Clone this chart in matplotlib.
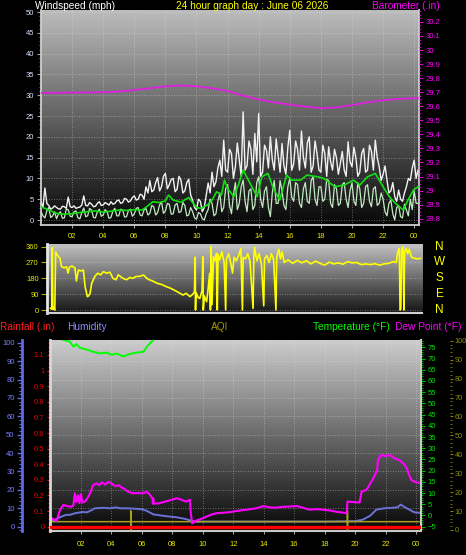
import numpy as np
import matplotlib
matplotlib.use("Agg")
import matplotlib.pyplot as plt
from matplotlib.ticker import MultipleLocator, FuncFormatter

plt.rcParams['font.family'] = ['Liberation Sans', 'DejaVu Sans']

# ---------------- data ----------------
hour_ticks = [2, 4, 6, 8, 10, 12, 14, 16, 18, 20, 22, 24]
hour_labels = ['02', '04', '06', '08', '10', '12', '14', '16', '18', '20', '22', '00']

# wind, sampled every 7.5 minutes from 00:00
wind_step_h = 0.125
gust_mph = [4.4, 3.0, 7.7, 4.0, 3.5, 2.6, 2.9, 3.4, 3.0, 2.7, 2.6, 3.3, 3.2, 2.8, 5.5, 3.2,
            3.0, 3.4, 2.8, 3.0, 3.1, 3.6, 5.8, 3.5,
            3.4, 4.2, 3.8, 3.2, 3.3, 4.0, 4.4, 3.5, 3.6, 4.2, 3.9, 3.6,
            4.4, 3.8, 4.0, 4.6, 4.8, 4.0, 4.2, 5.2, 5.0, 4.3,
            4.6, 5.4, 5.8, 4.8, 5.0, 6.2, 6.0, 5.0,
            8.0, 6.5,
            9.5, 6.8, 7.2, 9.0, 10.2, 7.0, 8.0, 10.5, 11.2, 7.5, 8.5, 9.8, 10.0, 6.8,
            7.4, 10.5, 9.6, 6.5, 7.0, 9.0, 9.8, 6.0,
            4.8, 3.0,
            2.4, 5.0, 4.5, 2.0, 3.0, 6.0,
            8.9, 6.5,
            11.5, 8.0, 9.2, 12.5,
            14.4, 10.5, 19.2, 12.0, 11.5, 17.0, 16.0, 10.0, 12.8, 18.5,
            14.5, 10.5, 26.0, 12.0, 13.0, 19.0, 17.0, 11.0, 20.8, 14.0,
            25.6, 10.5, 11.5, 18.0, 16.8, 12.5, 20.0, 14.5, 12.0, 19.5,
            15.4, 11.5, 18.4, 13.0, 11.0, 17.5, 21.6, 12.0, 13.5, 19.0,
            17.0, 12.0, 21.4, 15.0, 12.5, 18.5, 20.0, 11.5, 13.0, 19.0,
            16.0, 12.0, 11.5, 18.0, 16.0, 10.5, 17.6, 14.0, 12.0, 17.0,
            15.0, 11.0, 13.6, 16.5, 12.0, 10.5, 18.8, 14.0, 12.8, 17.5,
            15.0, 10.5, 11.5, 16.0, 17.2, 11.5, 12.0, 18.0, 16.5, 12.0,
            19.2, 15.0, 12.8, 9.5, 11.0, 13.0, 9.6, 6.5, 7.0, 9.0,
            5.6, 4.5, 7.2, 5.0, 4.5, 6.5, 8.0, 10.0, 9.5, 12.5,
            14.4, 10.0, 12.0]
speed_mph = [2.0, 1.0, 0.5, 2.2, 3.0, 0.6, 1.0, 2.0, 0.3, 1.5, 2.0, 0.4, 0.5, 2.6, 2.5, 0.9,
             0.8, 2.0, 2.2, 0.5, 0.3, 1.8, 2.9, 0.8,
             1.0, 2.8, 2.4, 0.6, 0.5, 2.0, 2.6, 0.9, 1.2, 2.5, 2.0, 0.4,
             0.6, 2.2, 2.8, 1.0, 1.0, 2.6, 2.4, 0.7, 0.8, 2.3,
             2.6, 0.9, 1.5, 2.8, 3.0, 1.2, 1.0, 2.4,
             2.8, 1.2,
             1.6, 3.5, 3.2, 1.2, 1.8, 3.6, 4.4, 1.6, 2.2, 4.0, 3.8, 1.4, 1.5, 3.6,
             4.0, 1.8, 2.0, 4.2, 3.5, 1.0, 1.2, 3.0,
             2.0, 0.5,
             0.2, 1.8, 1.5, 0.3, 0.0, 1.5,
             2.5, 5.0,
             4.0, 1.0, 1.5, 4.5,
             6.5, 2.0, 3.0, 7.5, 8.5, 3.5, 1.5, 6.0, 9.0, 2.5,
             4.0, 8.0, 9.6, 4.5, 2.0, 7.0, 7.5, 2.5, 3.5, 9.0,
             10.4, 5.0, 3.0, 7.0, 8.0, 3.0, 0.8, 6.5, 9.5, 4.0,
             4.0, 9.5, 7.0, 3.5, 2.5, 8.0, 10.0, 5.5, 4.5, 9.0,
             8.5, 4.0, 3.0, 7.5, 9.0, 4.5, 4.0, 9.5, 10.4, 5.0,
             3.5, 8.0, 8.0, 4.5, 5.0, 9.8, 9.5, 4.0, 3.0, 8.5,
             7.5, 3.5, 4.0, 8.5, 9.0, 5.0, 3.0, 7.0, 8.9, 4.5,
             3.5, 9.0, 7.5, 3.0, 4.0, 8.0, 8.5, 4.5, 3.2, 7.5,
             8.0, 3.5, 4.0, 6.5, 5.0, 2.0, 1.0, 4.0, 4.8, 1.5,
             0.0, 3.0, 3.5, 0.8, 0.5, 3.8, 2.4, 1.0, 5.0, 2.5,
             7.0, 4.0, 4.0]
avg_hours = [0, 0.5, 1, 1.5, 2, 2.5, 3, 3.5, 4, 4.5, 5, 5.5, 6, 6.5, 6.8, 7.2,
             7.6, 8.0, 8.2, 8.5, 9.0, 9.5, 9.8, 10.0, 10.3, 10.7, 11.0, 11.3,
             11.6, 11.8, 12.0, 12.4, 12.7, 13.0, 13.45, 13.9, 14.2, 14.6, 14.9,
             15.35, 15.8, 16.1, 16.7, 17.1, 17.8, 18.2, 18.9, 19.5, 20.1, 20.5,
             21.0, 21.5, 22.0, 22.4, 22.8, 23.3, 23.6, 23.95, 24.25]
avg_mph = [3.2, 2.4, 1.6, 1.4, 1.5, 1.8, 2.0, 2.2, 1.9, 2.1, 2.4, 2.3, 2.5, 2.4,
           3.2, 4.4, 4.2, 4.6, 6.0, 4.8, 4.3, 5.4, 4.0, 3.0, 2.8, 3.6, 4.8, 6.8,
           6.0, 9.6, 7.6, 5.6, 8.5, 12.0, 8.8, 5.6, 10.4, 11.2, 8.0, 4.8, 10.8,
           9.6, 9.6, 10.8, 10.4, 10.0, 8.0, 8.4, 9.6, 8.4, 10.4, 11.2, 8.0, 5.6,
           4.0, 2.4, 4.8, 7.2, 8.0]

baro_hours = [0, 2, 4, 5, 6, 7, 8, 9, 10, 11, 12, 13, 14, 15, 16, 17, 18, 19,
              20, 21, 22, 23, 24, 24.3]
baro_inhg = [29.695, 29.697, 29.700, 29.705, 29.715, 29.728, 29.742, 29.748,
             29.742, 29.728, 29.708, 29.675, 29.648, 29.628, 29.612, 29.598,
             29.587, 29.592, 29.608, 29.628, 29.643, 29.652, 29.657, 29.657]

dir_hours = [0.0, 0.08, 0.12, 0.16, 0.2, 0.28, 0.34, 0.44, 0.55, 0.62,
             0.73, 0.9, 1.06, 1.15, 1.25, 1.4, 1.6, 1.7, 1.83, 2.0,
             2.16, 2.27, 2.42, 2.5, 2.6, 2.7, 2.9, 3.1, 3.3, 3.47,
             3.7, 3.9, 4.1, 4.3, 4.45, 4.6, 4.8, 5.0, 5.2, 5.4,
             5.6, 5.9, 6.1, 6.4, 6.7, 7.0, 7.3, 7.6, 7.85, 8.1,
             8.4, 8.7, 8.9, 9.16, 9.35, 9.45, 9.5, 9.52, 9.55, 9.7,
             9.8, 9.95, 10.0, 10.03, 10.1, 10.25, 10.35, 10.45, 10.5, 10.55,
             10.6, 10.7, 10.8, 10.9, 10.95, 11.0, 11.1, 11.25, 11.4, 11.5,
             11.55, 11.7, 11.85, 11.95, 12.05, 12.2, 12.35, 12.5, 12.6, 12.65,
             12.8, 12.95, 13.1, 13.3, 13.35, 13.4, 13.55, 13.7, 13.85, 14.0,
             14.05, 14.2, 14.35, 14.5, 14.65, 14.8, 14.85, 15.0, 15.1, 15.2,
             15.35, 15.6, 15.9, 16.2, 16.5, 16.8, 17.1, 17.4, 17.7, 18.0,
             18.3, 18.6, 18.9, 19.2, 19.5, 19.8, 20.1, 20.4, 20.7, 21.0,
             21.3, 21.6, 21.9, 22.2, 22.5, 22.7, 22.8, 22.9, 22.95, 23.0,
             23.05, 23.15, 23.2, 23.25, 23.35, 23.45, 23.55, 23.7, 23.9, 24.1,
             24.3]
dir_deg = [10, 5, 355, 5, 15, 0, 330, 312, 300, 294,
           246, 240, 246, 210, 244, 250, 240, 165, 227, 222,
           227, 133, 76, 80, 95, 150, 190, 209, 200, 218,
           209, 215, 180, 172, 200, 190, 178, 172, 185, 180,
           190, 192, 199, 175, 165, 152, 145, 133, 125, 114,
           100, 85, 95, 76, 90, 104, 300, 0, 100, 70,
           66, 110, 303, 0, 80, 47, 120, 209, 0, 360,
           30, 303, 280, 322, 0, 315, 284, 330, 270, 0,
           290, 320, 260, 210, 300, 280, 310, 350, 0, 300,
           290, 320, 275, 9, 300, 355, 280, 320, 260, 24,
           290, 310, 270, 320, 285, 0, 300, 345, 290, 330,
           270, 285, 265, 282, 268, 280, 262, 278, 265, 255,
           272, 262, 268, 260, 275, 268, 270, 258, 262, 258,
           263, 255, 262, 265, 275, 270, 330, 350, 0, 5,
           340, 360, 0, 330, 350, 320, 345, 300, 294, 290,
           294]
compass_labels = ['N', 'W', 'S', 'E', 'N']
compass_deg = [360, 270, 180, 90, 0]

hum_hours = [0.0, 0.3, 0.7, 1.0, 1.3, 1.6, 2.1, 2.4, 2.7, 2.9,
             3.5, 3.9, 4.3, 4.6, 5.0, 5.5, 6.0, 6.3, 6.75, 7.5,
             8.3, 8.8, 9.16, 9.6, 10.0, 12.0, 14.0, 16.0, 18.0, 20.0,
             20.5, 21.0, 21.4, 21.9, 22.5, 22.8, 23.0, 23.2, 23.4, 23.8,
             24.0, 24.2]
hum_pct = [3.6, 3.8, 5.4, 6.4, 6.5, 7.3, 8.0, 7.8, 9.0, 10.0,
           10.3, 10.0, 10.5, 10.0, 10.0, 9.8, 9.5, 8.7, 6.7, 5.8,
           5.1, 4.3, 3.5, 2.7, 2.8, 2.8, 2.8, 2.8, 2.8, 3.0,
           3.8, 6.0, 9.3, 10.0, 10.3, 10.6, 12.0, 11.0, 10.0, 8.2,
           7.6, 7.6]

temp_hours = [0.0, 0.5, 0.84, 1.28, 1.5, 1.7, 1.94, 2.48, 2.8, 3.25,
              3.69, 4.0, 4.35, 4.78, 5.2, 5.6, 6.1, 6.4, 6.75, 7.2,
              8.0, 10.0, 13.0, 16.0, 19.0, 22.0, 24.2]
temp_f = [81.0, 79.5, 78.3, 77.5, 75.3, 76.4, 74.8, 73.8, 73.0, 72.3,
          72.6, 71.7, 72.2, 70.9, 72.0, 72.6, 73.0, 75.8, 78.3, 81.0,
          85.0, 90.0, 95.0, 97.0, 93.0, 87.0, 84.0]

dp_hours = [0.0, 0.08, 0.4, 0.62, 0.84, 1.1, 1.38, 1.5, 1.6, 1.7,
            1.8, 1.9, 2.0, 2.1, 2.27, 2.45, 2.6, 2.8, 3.03, 3.2,
            3.36, 3.6, 3.8, 4.0, 4.15, 4.3, 4.5, 4.65, 4.8, 5.1,
            5.4, 5.8, 6.1, 6.3, 6.5, 6.7, 6.72, 6.75, 6.78, 7.1,
            7.7, 8.3, 8.6, 8.9, 9.16, 9.2, 9.3, 9.6, 9.9, 10.25,
            10.6, 10.9, 11.3, 11.8, 12.2, 12.66, 13.1, 13.5, 14.0, 14.4,
            14.8, 15.2, 15.7, 16.2, 16.6, 17.0, 17.5, 17.9, 18.4, 18.8,
            19.1, 19.45, 19.5, 19.9, 20.3, 20.43, 20.76, 21.0, 21.15, 21.3,
            21.45, 21.5, 21.7, 22.0, 22.3, 22.6, 22.9, 23.2, 23.4, 23.55,
            23.7, 24.0, 24.2]
dp_f = [-1.0, -1.25, -2.5, 2.4, 4.7, 4.2, 3.9, 4.5, 9.9, 6.0,
        9.0, 5.5, 9.5, 5.8, 6.2, 8.0, 9.9, 13.6, 14.3, 13.5,
        14.8, 13.8, 15.0, 14.3, 13.5, 13.1, 13.5, 12.5, 12.1, 10.6,
        9.9, 10.0, 9.9, 10.6, 9.5, 7.6, 5.3, 7.6, 5.3, 5.4,
        6.5, 7.7, 7.0, 6.2, 7.0, 2.0, -3.5, -2.2, -1.5, -0.5,
        0.5, 1.0, 1.2, 1.5, 2.0, 2.4, 2.8, 3.2, 4.2, 3.6,
        3.5, 3.8, 4.0, 4.2, 3.4, 2.6, 2.8, 2.6, 2.2, 1.6,
        1.4, 1.0, 6.2, 6.0, 5.8, 10.6, 11.5, 14.3, 16.0, 18.1,
        20.0, 24.7, 27.0, 26.5, 27.0, 25.5, 24.7, 23.0, 21.0, 18.0,
        15.8, 14.8, 14.6]

aqi_hours = [0.0, 5.27, 5.27, 5.27, 5.28, 19.5, 19.5, 19.5, 19.51, 24.2]
aqi_val = [4.4, 4.4, 10.0, 0.0, 4.4, 4.4, 10.0, 0.0, 4.4, 4.4]

rain_hours = [0.0, 24.2]
rain_in = [0.0, 0.0]

# ---------------- figure ----------------
W, H = 466, 555
fig = plt.figure(figsize=(W / 100, H / 100), dpi=100, facecolor='black')


def box(l, t, r, b):
    return [l / W, 1 - b / H, (r - l) / W, (b - t) / H]


def backdrop(ax, top, bottom):
    g = np.linspace(bottom, top, 256).reshape(-1, 1)
    ax.imshow(g, extent=[0, 1, 0, 1], transform=ax.transAxes, origin='lower',
              aspect='auto', cmap='gray', vmin=0, vmax=1, zorder=0,
              interpolation='bilinear')


def ftext(x, y, s, color, ha='left', size=7.3):
    fig.text(x / W, 1 - y / H, s, color=color, ha=ha, va='center', fontsize=size)


def hide_spines(ax):
    for s in ax.spines.values():
        s.set_visible(False)


GRID = dict(color='#e8e8e8', linestyle=(0, (1, 2)), linewidth=0.6, alpha=0.5)
fmt_g = FuncFormatter(lambda v, p: '%g' % round(v, 2))
YEL = '#e8e800'

# ---- top panel: wind speed + barometer ----
ax1 = fig.add_axes(box(41, 10, 419, 225))
ax1.set_facecolor('black')
ax1.set_axisbelow(True)
backdrop(ax1, 0.74, 0.03)
gust_hours = np.arange(len(gust_mph)) * wind_step_h
speed_hours = np.arange(len(speed_mph)) * wind_step_h
ax1.plot(gust_hours, gust_mph, color='#f2f2f2', lw=1.0, zorder=2)
ax1.plot(speed_hours, speed_mph, color='#c2eac2', lw=0.9, zorder=3)
ax1.plot(avg_hours, avg_mph, color='#10e010', lw=1.2, zorder=4)
ax1.set_xlim(0, 24.31)
ax1.set_ylim(-1.2, 50.5)
ax1.yaxis.set_major_locator(MultipleLocator(5))
ax1.yaxis.set_minor_locator(MultipleLocator(1))
ax1.set_xticks(hour_ticks)
ax1.set_xticklabels(hour_labels)
ax1.tick_params(axis='y', which='major', colors='#a0a0a0', labelcolor='#d8e4ff',
                labelsize=5.5, length=3, width=0.8, pad=2)
ax1.tick_params(axis='y', which='minor', colors='#909090', length=1.5, width=0.6)
ax1.tick_params(axis='x', colors='#a0a0a0', labelcolor=YEL, labelsize=5.5,
                length=2, pad=4)
ax1.grid(True, which='major', **GRID)
for k, s in ax1.spines.items():
    s.set_color('#cfcfcf')
    s.set_linewidth(1.3)
ax1.spines['top'].set_visible(False)

ax1b = ax1.twinx()
hide_spines(ax1b)
ax1b.plot(baro_hours, baro_inhg, color='#e020e0', lw=1.3, zorder=5)
ax1b.set_ylim(28.755, 30.285)
ax1b.yaxis.set_major_locator(MultipleLocator(0.1))
ax1b.yaxis.set_minor_locator(MultipleLocator(0.025))
ax1b.yaxis.set_major_formatter(fmt_g)
ax1b.tick_params(axis='y', which='major', colors='#e000e0', labelcolor='#ff00ff',
                 labelsize=5.5, length=3, width=0.8, pad=2)
ax1b.tick_params(axis='y', which='minor', colors='#e000e0', length=1.5, width=0.6)

ftext(35, 6, 'Windspeed (mph)', 'white')
ftext(252, 6, '24 hour graph day : June 06 2026', '#ffff00', ha='center')
ftext(440, 6, 'Barometer (.in)', '#ff00ff', ha='right')

# ---- middle panel: wind direction ----
ax2 = fig.add_axes(box(47, 244, 422, 313))
ax2.set_facecolor('black')
ax2.set_axisbelow(True)
backdrop(ax2, 0.76, 0.08)
ax2.plot(dir_hours, dir_deg, color='#ffff00', lw=1.2, zorder=3)
ax2.set_xlim(-0.23, 24.39)
ax2.set_ylim(-17, 375)
ax2.set_yticks([0, 90, 180, 270, 360])
ax2.set_xticks([])
ax2.tick_params(axis='y', colors='#b0b000', labelcolor=YEL, labelsize=5.5,
                length=4, width=0.8, pad=2)
ax2.yaxis.grid(True, **GRID)
ax2.spines['left'].set_color('#e6e6e6')
ax2.spines['left'].set_linewidth(2)
ax2.spines['bottom'].set_color('#d0d0d0')
ax2.spines['bottom'].set_linewidth(1.5)
ax2.spines['top'].set_visible(False)
ax2.spines['right'].set_visible(False)
for lab, deg in zip(compass_labels, compass_deg):
    ax2.text(1.047, deg, lab, transform=ax2.get_yaxis_transform(), color='#ffff00',
             fontsize=8.5, ha='center', va='center', clip_on=False)

# ---- bottom panel: rain, humidity, AQI, temperature, dew point ----
ax3 = fig.add_axes(box(50, 340, 421, 531))
ax3.set_facecolor('black')
ax3.set_axisbelow(True)
backdrop(ax3, 0.80, 0.03)
ax3.plot(hum_hours, hum_pct, color='#6a72d8', lw=1.4, zorder=3)
ax3.set_ylim(-2.34, 101.47)
ax3.yaxis.set_major_locator(MultipleLocator(10))
ax3.yaxis.set_minor_locator(MultipleLocator(2))
ax3.set_xticks(hour_ticks)
ax3.set_xticklabels(hour_labels)
ax3.tick_params(axis='x', colors='#a0a0a0', labelcolor=YEL, labelsize=5.5,
                length=2, pad=5)
ax3.tick_params(axis='y', which='major', colors='#6068e8', labelcolor='#7880ff',
                labelsize=5.5, length=3.5, width=1, pad=2)
ax3.tick_params(axis='y', which='minor', colors='#6068e8', length=2, width=0.8)
ax3.grid(True, which='major', **GRID)
hide_spines(ax3)
ax3.spines['left'].set_visible(True)
ax3.spines['left'].set_position(('outward', 20))
ax3.spines['left'].set_color('#6068e8')
ax3.spines['left'].set_linewidth(2)
ax3.spines['bottom'].set_visible(True)
ax3.spines['bottom'].set_color('#c8c8c8')
ax3.spines['bottom'].set_linewidth(1.5)

ax3a = ax3.twinx()
hide_spines(ax3a)
ax3a.plot(aqi_hours, aqi_val, color='#a89e20', lw=1.1, zorder=3)
ax3a.set_ylim(-0.53, 100.4)
ax3a.spines['right'].set_position(('outward', 21))
ax3a.yaxis.set_major_locator(MultipleLocator(10))
ax3a.yaxis.set_minor_locator(MultipleLocator(2))
ax3a.tick_params(axis='y', which='major', colors='#808000', labelcolor='#909000',
                 labelsize=5.3, length=2.2, width=0.8, pad=1.2)
ax3a.tick_params(axis='y', which='minor', colors='#808000', length=1.5, width=0.6)

ax3t = ax3.twinx()
hide_spines(ax3t)
ax3t.spines['right'].set_visible(True)
ax3t.spines['right'].set_color('#c8c8c8')
ax3t.spines['right'].set_linewidth(1.5)
ax3t.plot(temp_hours, temp_f, color='#00ff00', lw=1.4, zorder=3)
ax3t.plot(dp_hours, dp_f, color='#ff00ff', lw=1.5, zorder=4)
ax3t.set_ylim(-6.92, 78.26)
ax3t.yaxis.set_major_locator(MultipleLocator(5))
ax3t.yaxis.set_minor_locator(MultipleLocator(1))
ax3t.tick_params(axis='y', which='major', colors='#00c000', labelcolor='#00e000',
                 labelsize=5.5, length=3, width=0.8, pad=2)
ax3t.tick_params(axis='y', which='minor', colors='#00c000', length=1.5, width=0.6)

ax3r = ax3.twinx()
hide_spines(ax3r)
ax3r.yaxis.tick_left()
ax3r.spines['left'].set_visible(True)
ax3r.spines['left'].set_color('#d8d8d8')
ax3r.spines['left'].set_linewidth(2)
ax3r.plot(rain_hours, rain_in, color='#ff0000', lw=2.4, zorder=5)
ax3r.set_ylim(-0.0275, 1.196)
ax3r.yaxis.set_major_locator(MultipleLocator(0.1))
ax3r.yaxis.set_minor_locator(MultipleLocator(0.025))
ax3r.yaxis.set_major_formatter(fmt_g)
ax3r.tick_params(axis='y', which='major', colors='#d02020', labelcolor='#e00000',
                 labelsize=5.5, length=2, width=0.8, pad=2)
ax3r.tick_params(axis='y', which='minor', colors='#d02020', length=1.5, width=0.6)

ax3.set_xlim(-0.033, 24.33)

ftext(0, 327, 'Rainfall (.in)', '#ff2020')
ftext(67, 327, 'Humidity', '#8c8cff')
ftext(220, 327, 'AQI', '#a09a00', ha='center')
ftext(313, 327, 'Temperature (°F)', '#00ff00')
ftext(395, 327, 'Dew Point (°F)', '#ff00ff')

fig.savefig('out.png', dpi=100, facecolor='black')
